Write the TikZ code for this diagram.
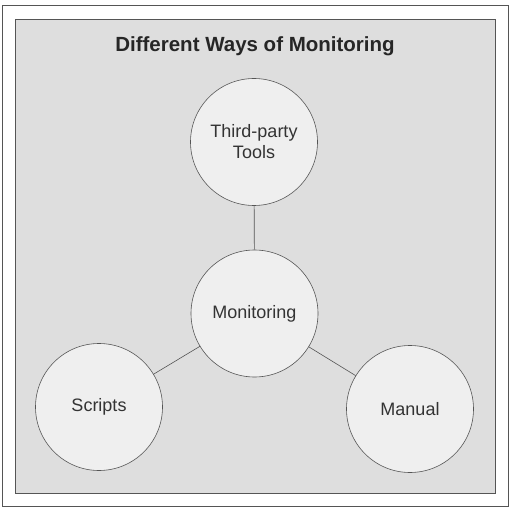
\documentclass[tikz,border=0pt]{standalone}
\usepackage{fontspec}
\setmainfont{Liberation Sans}
\definecolor{panelgray}{HTML}{DEDEDE}
\definecolor{bubblegray}{HTML}{EFEFEF}
\definecolor{edgegray}{HTML}{555555}
\tikzset{
    bubble/.style={circle, draw=edgegray, semithick, fill=bubblegray, minimum size=127pt,
        inner sep=0pt, align=center, font=\fontsize{18}{21}\selectfont, text=black!80},
    link/.style={draw=edgegray, semithick}
}
\begin{document}
\begin{tikzpicture}[x=1pt, y=-1pt]
    \useasboundingbox (0, 0) rectangle (517, 508);
        \draw[edgegray, fill=white] (2, 5) rectangle (508, 506);
        \draw[edgegray, semithick, fill=panelgray] (15, 19) rectangle (495, 493);

        \node[font=\bfseries\fontsize{20.5}{24}\selectfont, text=black!85] (title) at (255, 46) {Different Ways of Monitoring};

        \node[bubble] (tools) at (254, 142) {Third-party\\Tools};
        \node[bubble] (mon) at (254.5, 313.5) {Monitoring};
        \node[bubble] (scripts) at (99, 407) {Scripts};
        \node[bubble] (manual) at (410, 409) {Manual};

        \draw[link] (tools) -- (mon);
        \draw[link] (mon) -- (scripts);
        \draw[link] (mon) -- (manual);
    \end{tikzpicture}
\end{document}
